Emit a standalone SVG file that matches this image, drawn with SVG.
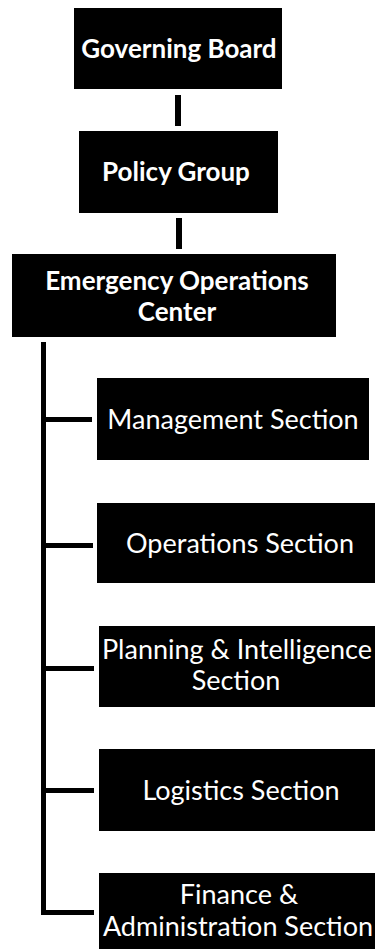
<svg xmlns="http://www.w3.org/2000/svg" width="375" height="949" viewBox="0 0 375 949">
<style>
.box{fill:#000}
.t{fill:#fff;font-family:Lato,"Open Sans","DejaVu Sans",sans-serif;font-size:27px;text-anchor:middle}
.b{font-weight:bold;font-size:26px}
.c{fill:#000}
</style>
<rect width="375" height="949" fill="#fff"/>
<g id="connectors">
<rect class="c" x="175" y="95" width="6" height="31"/>
<rect class="c" x="176" y="218" width="6" height="31"/>
<rect class="c" x="41" y="342" width="5" height="573"/>
<rect class="c" x="41" y="417" width="51" height="5"/>
<rect class="c" x="41" y="543" width="52" height="5"/>
<rect class="c" x="41" y="666" width="53" height="5"/>
<rect class="c" x="41" y="788" width="53" height="5"/>
<rect class="c" x="41" y="910" width="53" height="5"/>
</g>
<g id="governing-board">
<rect class="box" x="74" y="8" width="208" height="81"/>
<text class="t b" x="179" y="58">Governing Board</text>
</g>
<g id="policy-group">
<rect class="box" x="79" y="131" width="199" height="82"/>
<text class="t b" x="176" y="181">Policy Group</text>
</g>
<g id="eoc">
<rect class="box" x="12" y="254" width="324" height="83"/>
<text class="t b" x="177" y="290">Emergency Operations</text>
<text class="t b" x="177" y="321">Center</text>
</g>
<g id="management">
<rect class="box" x="97" y="378" width="272" height="82"/>
<text class="t" x="233" y="429">Management Section</text>
</g>
<g id="operations">
<rect class="box" x="97" y="503" width="278" height="80"/>
<text class="t" x="240" y="553">Operations Section</text>
</g>
<g id="planning">
<rect class="box" x="99" y="626" width="276" height="81"/>
<text class="t" x="237" y="659">Planning &amp; Intelligence</text>
<text class="t" x="236" y="690">Section</text>
</g>
<g id="logistics">
<rect class="box" x="99" y="749" width="276" height="82"/>
<text class="t" x="241" y="800">Logistics Section</text>
</g>
<g id="finance">
<rect class="box" x="99" y="873" width="276" height="76"/>
<text class="t" x="239" y="904">Finance &amp;</text>
<text class="t" x="238" y="936">Administration Section</text>
</g>
</svg>
